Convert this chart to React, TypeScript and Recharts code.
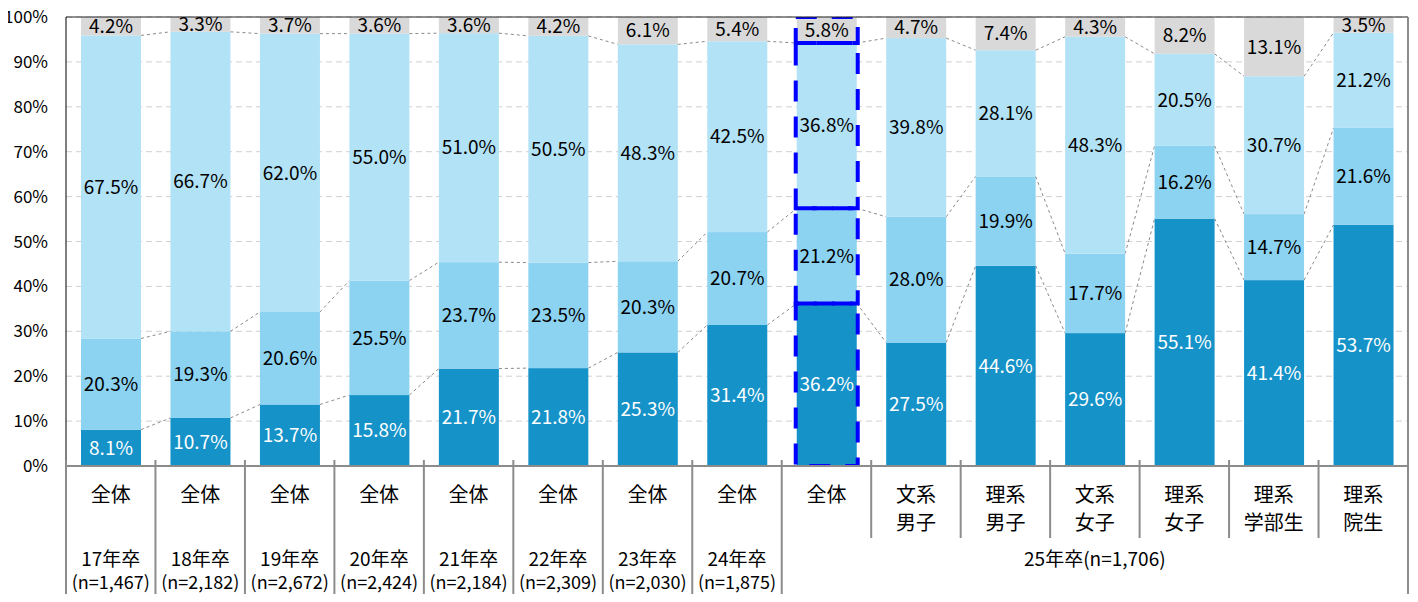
import React from 'react';
import { BarChart, Bar, XAxis, YAxis, CartesianGrid, ReferenceLine, LabelList } from 'recharts';

const categories = ['全体', '全体', '全体', '全体', '全体', '全体', '全体', '全体', '全体', '文系\n男子', '理系\n男子', '文系\n女子', '理系\n女子', '理系\n学部生', '理系\n院生'];
const years = ['17年卒', '18年卒', '19年卒', '20年卒', '21年卒', '22年卒', '23年卒', '24年卒'];
const sampleSizes = ['(n=1,467)', '(n=2,182)', '(n=2,672)', '(n=2,424)', '(n=2,184)', '(n=2,309)', '(n=2,030)', '(n=1,875)'];
const groupLabel = '25年卒(n=1,706)';

const seg1 = [8.1, 10.7, 13.7, 15.8, 21.7, 21.8, 25.3, 31.4, 36.2, 27.5, 44.6, 29.6, 55.1, 41.4, 53.7];
const seg2 = [20.3, 19.3, 20.6, 25.5, 23.7, 23.5, 20.3, 20.7, 21.2, 28.0, 19.9, 17.7, 16.2, 14.7, 21.6];
const seg3 = [67.5, 66.7, 62.0, 55.0, 51.0, 50.5, 48.3, 42.5, 36.8, 39.8, 28.1, 48.3, 20.5, 30.7, 21.2];
const seg4 = [4.2, 3.3, 3.7, 3.6, 3.6, 4.2, 6.1, 5.4, 5.8, 4.7, 7.4, 4.3, 8.2, 13.1, 3.5];
const yTicks = [0, 10, 20, 30, 40, 50, 60, 70, 80, 90, 100];

const HIGHLIGHT = 8;
const keys = ['s1', 's2', 's3', 's4'];
const colors = ['#1592C8', '#8CD3F2', '#B2E2F6', '#D9D9D9'];
const series = [seg1, seg2, seg3, seg4];

const data = categories.map((name, i) => ({
  id: i,
  name,
  s1: seg1[i],
  s2: seg2[i],
  s3: seg3[i],
  s4: seg4[i],
}));

// chart covers the whole window (wrapper cancels the body margin)
const W = 1418;
const H = 602;
const M = { top: 17, right: 10, bottom: 0, left: 0 };
const Y_W = 66;
const X_H = 136;
const PLOT_W = W - M.left - M.right - Y_W;
const PLOT_H = H - M.top - M.bottom - X_H;
const STEP = PLOT_W / categories.length;
const FONT = '"Noto Sans CJK JP", "Noto Sans", sans-serif';
const CAT_FS = 20;

const cum = (i: number, upto: number) => {
  let s = 0;
  for (let k = 0; k <= upto; k++) s += series[k][i];
  return s;
};

const makeShape = (seg: number) => (props: any) => {
  const { x, y, width, height, fill, payload } = props;
  const i = payload.id;
  const v = series[seg][i];
  const ppu = v > 0 ? height / v : PLOT_H / 100;
  const zeroY = y + height + (seg > 0 ? cum(i, seg - 1) : 0) * ppu;
  const parts: React.ReactNode[] = [];
  parts.push(<rect key="r" x={x} y={y} width={width} height={height} fill={fill} />);
  // dashed connector to the same boundary on the next bar
  if (seg < 3 && i < categories.length - 1) {
    const yNext = zeroY - cum(i + 1, seg) * ppu;
    parts.push(
      <line key="c" x1={x + width} y1={y} x2={x + STEP} y2={yNext} stroke="#8a8a8a" strokeWidth={1} strokeDasharray="3 3" />
    );
  }
  // blue dashed boxes around the highlighted bar
  if (seg === 3 && i === HIGHLIGHT) {
    for (let k = 0; k < 4; k++) {
      const lo = k > 0 ? cum(i, k - 1) : 0;
      const hi = cum(i, k);
      parts.push(
        <rect
          key={'h' + k}
          x={x - 1}
          y={zeroY - hi * ppu}
          width={width + 2}
          height={(hi - lo) * ppu}
          fill="none"
          stroke="#0000FF"
          strokeWidth={4}
          strokeDasharray="21 15"
        />
      );
    }
  }
  return <g>{parts}</g>;
};

const CatTick = (props: any) => {
  const { x, y, payload } = props;
  const i = payload.index;
  const left = x - STEP / 2;
  const right = x + STEP / 2;
  const bottom = H + 10;
  const lines = String(categories[i]).split('\n');
  const els: React.ReactNode[] = [];
  els.push(
    <line key="l" x1={left} y1={y - 6} x2={left} y2={i <= HIGHLIGHT ? bottom : y + 72} stroke="#8c8c8c" strokeWidth={2} />
  );
  if (i === categories.length - 1) {
    els.push(<line key="rr" x1={right} y1={y - PLOT_H} x2={right} y2={bottom} stroke="#8c8c8c" strokeWidth={2} />);
  }
  lines.forEach((t, k) => {
    els.push(
      <text key={'t' + k} x={x} y={y + 27 + k * 28} fontSize={CAT_FS} fill="#000" textAnchor="middle" dominantBaseline="central" fontFamily={FONT}>
        {t}
      </text>
    );
  });
  if (i < years.length) {
    els.push(
      <text key="yr" x={x} y={y + 91} fontSize={19} fill="#000" textAnchor="middle" dominantBaseline="central" fontFamily={FONT}>
        {years[i]}
      </text>
    );
    els.push(
      <text key="n" x={x} y={y + 115} fontSize={18} fill="#000" textAnchor="middle" dominantBaseline="central" fontFamily={FONT}>
        {sampleSizes[i]}
      </text>
    );
  }
  if (i === HIGHLIGHT) {
    els.push(
      <text key="g" x={x + 3 * STEP} y={y + 91} fontSize={19} fill="#000" textAnchor="middle" dominantBaseline="central" fontFamily={FONT}>
        {groupLabel}
      </text>
    );
  }
  return <g>{els}</g>;
};

const fmt = (v: any) => Number(v).toFixed(1) + '%';

export default function App() {
  return (
    <div style={{ width: W, height: H, overflow: 'hidden', margin: -8 }}>
      <BarChart width={W} height={H} data={data} margin={M} barSize={60} style={{ fontFamily: FONT }}>
        <CartesianGrid vertical={false} stroke="#d0d0d0" strokeDasharray="6 4" />
        <XAxis
          dataKey="id"
          type="category"
          height={X_H}
          interval={0}
          tickLine={false}
          tickSize={0}
          tickMargin={0}
          axisLine={{ stroke: '#8c8c8c', strokeWidth: 2 }}
          tick={<CatTick />}
        />
        <YAxis
          width={Y_W}
          domain={[0, 100]}
          ticks={yTicks}
          allowDataOverflow
          tickFormatter={(v) => v + '%'}
          tickLine={false}
          tickSize={0}
          tickMargin={18}
          axisLine={{ stroke: '#000' }}
          tick={{ fontSize: 17, fill: '#000' }}
        />
        {keys.map((k, s) => (
          <Bar key={k} dataKey={k} stackId="a" fill={colors[s]} isAnimationActive={false} shape={makeShape(s)}>
            <LabelList dataKey={k} position="center" formatter={fmt} fill={s === 0 ? '#fff' : '#000'} fontSize={19} fontFamily={FONT} />
          </Bar>
        ))}
        <ReferenceLine y={100} stroke="#222" strokeWidth={1} />
      </BarChart>
    </div>
  );
}
